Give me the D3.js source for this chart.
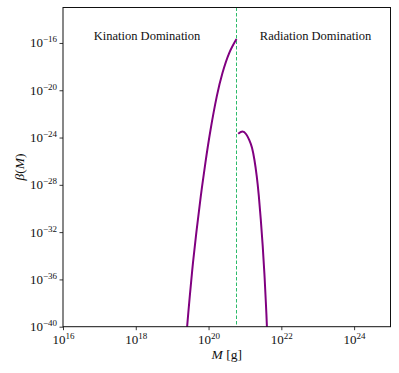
<!DOCTYPE html>
<html lang="en">
<head>
<meta charset="utf-8">
<title>beta(M)</title>
<style>
  body { margin: 0; background: #fff; }
  text { font-family: "Liberation Serif", "DejaVu Serif", serif; fill: #111; }
</style>
</head>
<body>
<svg id="chart" width="399" height="373"></svg>
<script src="https://d3js.org/d3.v7.min.js"></script>
<script>
  // values (log10 of M in grams, log10 of beta)
  var kinLogM    = [19.340, 19.411, 19.483, 19.571, 19.673, 19.785, 19.912, 20.055, 20.226, 20.382, 20.567, 20.768];
  var kinLogBeta = [-42.82, -40.0, -37.46, -34.63, -31.81, -28.99, -26.16, -23.34, -20.52, -18.54, -16.85, -15.66];
  var radLogM    = [20.815, 20.933, 21.034, 21.117, 21.194, 21.260, 21.323, 21.381, 21.436, 21.488, 21.535, 21.574, 21.604, 21.629];
  var radLogBeta = [-23.68, -23.49, -23.72, -24.19, -24.86, -25.88, -27.24, -28.93, -30.96, -33.16, -35.53, -37.91, -40.0, -42.4];
  var transitionLogM = 20.768;
  var xTickExp = [16, 18, 20, 22, 24];
  var yTickExp = [-16, -20, -24, -28, -32, -36, -40];
  var labels = [
    {text: "Kination Domination", logM: 18.31},
    {text: "Radiation Domination", logM: 22.94}
  ];

  var svg = d3.select("#chart");
  var pLeft = 63, pRight = 390.5, pTop = 7.5, pBottom = 326.7;

  var x = d3.scaleLog().domain([1e16, 1e25]).range([pLeft, pRight]);
  var y = d3.scaleLog().domain([1e-40, 1e-13]).range([pBottom, pTop]);

  svg.append("clipPath").attr("id", "clip")
    .append("rect").attr("x", pLeft).attr("y", pTop)
    .attr("width", pRight - pLeft).attr("height", pBottom - pTop);

  var plot = svg.append("g").attr("clip-path", "url(#clip)");

  // transition line
  plot.append("line")
    .attr("x1", x(Math.pow(10, transitionLogM))).attr("x2", x(Math.pow(10, transitionLogM)))
    .attr("y1", pTop).attr("y2", pBottom)
    .attr("stroke", "#2dbb6a").attr("stroke-width", 1)
    .attr("stroke-dasharray", "3.5,2");

  var line = d3.line()
    .x(d => x(Math.pow(10, d[0])))
    .y(d => y(Math.pow(10, d[1])))
    .curve(d3.curveNatural);

  plot.append("path")
    .attr("d", line(d3.zip(kinLogM, kinLogBeta)))
    .attr("fill", "none").attr("stroke", "#800080").attr("stroke-width", 2);
  plot.append("path")
    .attr("d", line(d3.zip(radLogM, radLogBeta)))
    .attr("fill", "none").attr("stroke", "#800080").attr("stroke-width", 2);

  // axes
  var xAxis = svg.append("g").attr("transform", "translate(0," + pBottom + ")")
    .call(d3.axisBottom(x).tickValues(xTickExp.map(e => Math.pow(10, e))).tickSize(3.5).tickFormat(""));
  var yAxis = svg.append("g").attr("transform", "translate(" + pLeft + ",0)")
    .call(d3.axisLeft(y).tickValues(yTickExp.map(e => Math.pow(10, e))).tickSize(3.5).tickFormat(""));
  svg.selectAll(".domain").remove();
  svg.selectAll(".tick line").attr("stroke", "#222").attr("stroke-width", 0.9);

  xAxis.selectAll(".tick").each(function(d) {
    var t = d3.select(this).append("text")
      .attr("y", 17.5).attr("text-anchor", "middle").attr("font-size", 13);
    t.append("tspan").text("10");
    t.append("tspan").attr("dy", -5).attr("font-size", 9).text(Math.round(Math.log10(d)));
  });
  yAxis.selectAll(".tick").each(function(d) {
    var t = d3.select(this).append("text")
      .attr("x", -6).attr("dy", 4).attr("text-anchor", "end").attr("font-size", 13);
    t.append("tspan").text("10");
    t.append("tspan").attr("dy", -5).attr("font-size", 9)
      .text("\u2212" + Math.abs(Math.round(Math.log10(d))));
  });

  // frame
  svg.append("rect").attr("x", pLeft).attr("y", pTop)
    .attr("width", pRight - pLeft).attr("height", pBottom - pTop)
    .attr("fill", "none").attr("stroke", "#111").attr("stroke-width", 1);

  // region labels
  svg.selectAll(".region").data(labels).join("text")
    .attr("class", "region")
    .attr("x", d => x(Math.pow(10, d.logM)))
    .attr("y", 40)
    .attr("text-anchor", "middle")
    .attr("font-size", 12.5)
    .text(d => d.text);

  // axis titles
  var xt = svg.append("text").attr("x", (pLeft + pRight) / 2).attr("y", 359)
    .attr("text-anchor", "middle").attr("font-size", 13.5);
  xt.append("tspan").attr("font-style", "italic").text("M");
  xt.append("tspan").text(" [g]");

  var yt = svg.append("text")
    .attr("transform", "translate(24," + ((pTop + pBottom) / 2) + ") rotate(-90)")
    .attr("text-anchor", "middle").attr("font-size", 13.5);
  yt.append("tspan").attr("font-style", "italic").text("\u03b2");
  yt.append("tspan").text("(");
  yt.append("tspan").attr("font-style", "italic").text("M");
  yt.append("tspan").text(")");
</script>
</body>
</html>
